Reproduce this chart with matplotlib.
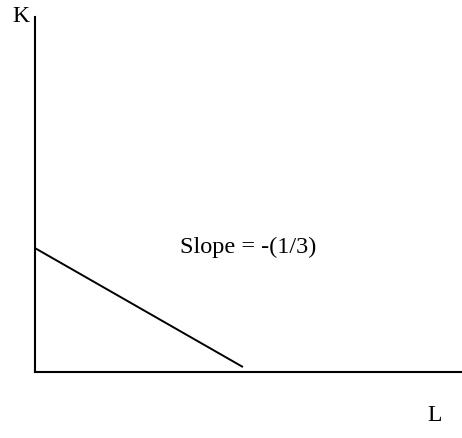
import matplotlib.pyplot as plt

# budget line in (L, K) units
line_L = [0.0, 4.87]
line_K = [3.49, 0.14]
slope_label = "Slope = -(1/3)"
x_label = "L"
y_label = "K"

plt.rcParams['font.family'] = ['Liberation Serif', 'DejaVu Serif']

W, H = 462, 439
fig = plt.figure(figsize=(W / 100, H / 100), dpi=100)
ax = fig.add_axes([35 / W, 66 / H, (W - 35) / W, 355 / H])
ax.set_xlim(0, 10)
ax.set_ylim(0, 10)

ax.plot(line_L, line_K, color='black', linewidth=1.4, solid_capstyle='butt')
ax.text(5.0, 3.54, slope_label, fontsize=17.5, ha='center', va='center')

for side in ['top', 'right']:
    ax.spines[side].set_visible(False)
for side in ['left', 'bottom']:
    ax.spines[side].set_linewidth(1.5)
ax.set_xticks([])
ax.set_yticks([])

fig.text(21 / W, 1 - 16 / H, y_label, fontsize=17, ha='center', va='center')
fig.text(435 / W, 1 - 416 / H, x_label, fontsize=17, ha='center', va='center')

fig.savefig('out.png', dpi=100)
